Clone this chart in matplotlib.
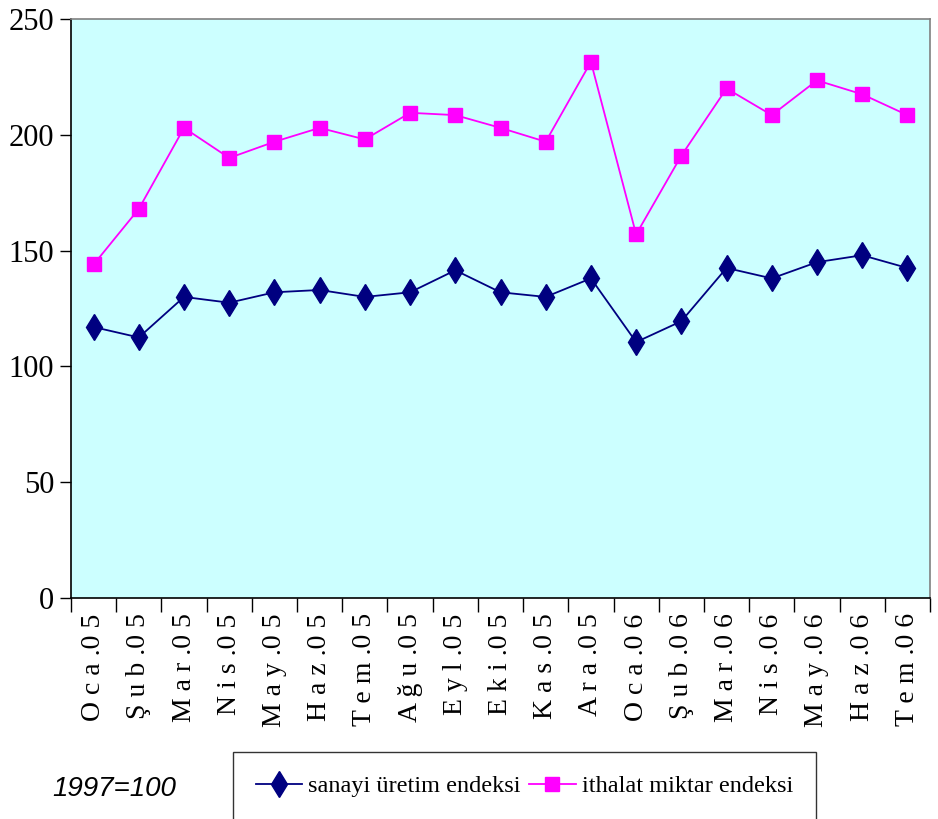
import matplotlib
matplotlib.use("Agg")
import matplotlib.pyplot as plt
from matplotlib.lines import Line2D
import numpy as np

months = ["Oca.05", "Şub.05", "Mar.05", "Nis.05", "May.05", "Haz.05", "Tem.05",
          "Ağu.05", "Eyl.05", "Eki.05", "Kas.05", "Ara.05", "Oca.06", "Şub.06",
          "Mar.06", "Nis.06", "May.06", "Haz.06", "Tem.06"]
sanayi = [117, 112.5, 130, 127.5, 132, 133, 130, 132, 141.5, 132, 130, 138,
          110.5, 119.5, 142.5, 138, 145, 148, 142.5]
ithalat = [144, 168, 203, 190, 197, 203, 198, 209.5, 208.5, 203, 197, 231.5,
           157, 191, 220, 208.5, 223.5, 217.5, 208.5]

SERIF = "Liberation Serif"

fig = plt.figure(figsize=(9.38, 8.19), dpi=100)
ax = fig.add_axes([71 / 938, 1 - 598 / 819, (930 - 71) / 938, (598 - 19) / 819])
ax.set_facecolor("#CCFFFF")

x = np.arange(len(months))
ax.plot(x, sanayi, color="#000080", lw=1.3, marker="d", ms=13,
        mfc="#000080", mec="#000080")
ax.plot(x, ithalat, color="#FF00FF", lw=1.3, marker="s", ms=10,
        mfc="#FF00FF", mec="#FF00FF")

ax.set_xlim(-0.5, len(months) - 0.5)
ax.set_ylim(0, 250)
ax.set_yticks([0, 50, 100, 150, 200, 250])
ax.tick_params(axis="y", direction="out", length=8, width=1, pad=4,
               labelsize=22, colors="black")
for t in ax.get_yticklabels():
    t.set_fontfamily(SERIF)

# category boundaries as ticks, labels at centers
ax.set_xticks(np.arange(-0.5, len(months)), labels=[])
ax.tick_params(axis="x", which="major", direction="out", length=10, width=1)
ax.set_xticks(x, minor=True)
spaced = [" ".join(m[:-3]) + " ." + m[-2] + " " + m[-1] for m in months]
ax.set_xticklabels(spaced, minor=True, rotation=90, fontsize=20,
                   fontfamily=SERIF)
ax.tick_params(axis="x", which="minor", length=0, pad=11)

for s in ["top", "right"]:
    ax.spines[s].set_color("#808080")
    ax.spines[s].set_linewidth(1.2)
for s in ["left", "bottom"]:
    ax.spines[s].set_color("black")
    ax.spines[s].set_linewidth(1.2)

fig.text(52 / 938, 1 - 789 / 819, "1997=100", fontsize=20, style="italic",
         family="Liberation Sans", va="center", ha="left")

handles = [
    Line2D([], [], color="#000080", lw=1.3, marker="d", ms=13, mfc="#000080"),
    Line2D([], [], color="#FF00FF", lw=1.3, marker="s", ms=10, mfc="#FF00FF"),
]
leg = fig.legend(handles, ["sanayi üretim endeksi", "ithalat miktar endeksi"],
                 loc="upper left", bbox_to_anchor=(233 / 938, 1 - 752 / 819),
                 ncol=2, frameon=True, fancybox=False, edgecolor="black",
                 prop={"family": SERIF, "size": 17.5}, handlelength=1.9,
                 handletextpad=0.25, columnspacing=0.35, borderpad=0.95,
                 borderaxespad=0)
leg.get_frame().set_linewidth(1.0)

fig.savefig("out.png", dpi=100)
